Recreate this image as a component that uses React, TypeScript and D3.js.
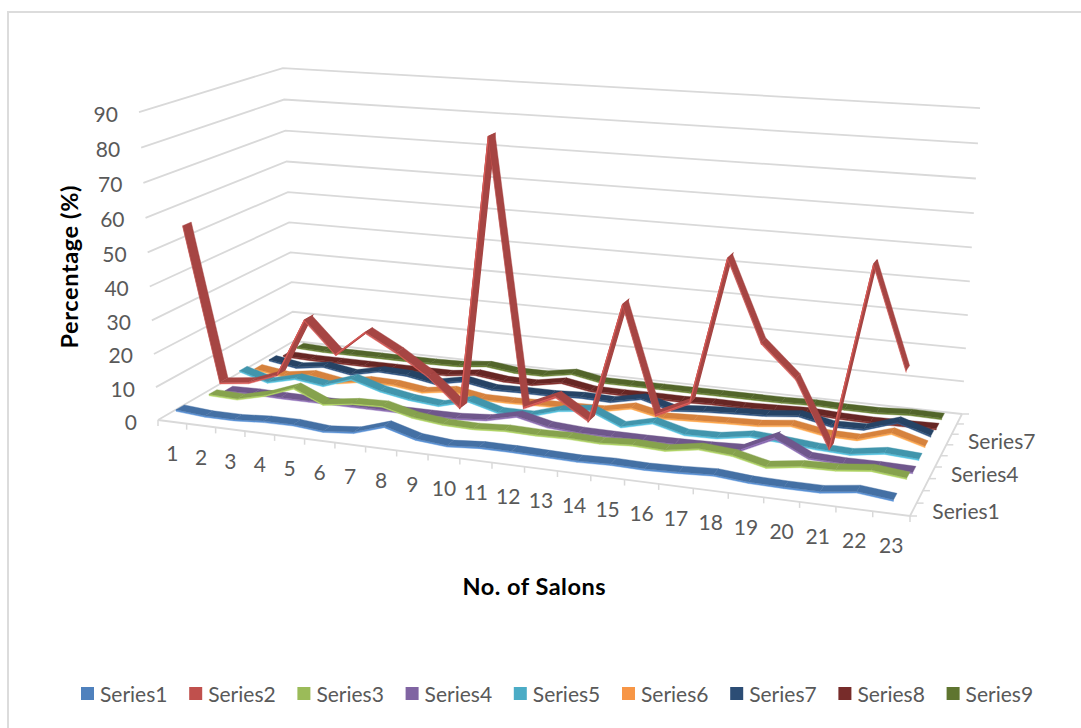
import React from "react";
import * as d3 from "d3";

type P = [number, number];
const seriesNames = ["Series1","Series2","Series3","Series4","Series5","Series6","Series7","Series8","Series9"];
const categories = d3.range(1,24).map(String);
const colors = ["#4f81bd","#c0504d","#9bbb59","#8064a2","#4bacc6","#f79646","#2c4d75","#772c2a","#5f7530"];
const valueTicks = [0,10,20,30,40,50,60,70,80,90];

const series1 = [2.9,2.2,2.2,2.8,2.9,2.1,2.9,5.8,3.2,2.4,3.1,3.1,2.9,2.7,3.0,2.8,3.1,3.6,2.8,2.6,2.6,3.9,2.9];
const series2 = [55.5,9.4,10.5,13.9,31.1,21.9,29.4,24.5,18.5,10.4,87.4,12.6,16.8,11.0,44.7,14.9,19.4,59.8,38.0,29.2,11.1,61.5,34.4];
const series3 = [1.8,1.5,3.7,7.0,3.1,4.4,4.7,2.4,1.4,1.2,1.8,1.6,1.8,1.5,2.1,1.7,3.3,2.6,0.4,1.8,2.0,3.1,2.1];
const series4 = [0.0,0.2,0.0,0.0,0.0,0.0,0.0,0.0,0.1,0.8,3.0,0.9,0.3,0.2,0.2,0.3,0.5,0.9,5.5,0.9,0.5,0.6,0.4];
const series5 = [3.6,1.0,3.2,2.0,5.1,2.4,0.8,0.0,2.5,0.0,0.0,2.8,4.0,0.1,2.4,0.0,0.2,1.8,1.2,0.4,0.0,1.5,0.9];
const series6 = [1.4,0.1,1.5,0.0,1.6,1.4,0.2,1.6,0.1,0.1,0.4,0.6,0.8,2.8,0.8,1.2,1.6,1.9,3.0,1.3,1.1,4.1,1.4];
const series7 = [1.6,0.2,1.5,0.0,2.0,1.7,0.1,1.9,0.3,0.5,0.5,1.0,0.7,2.7,0.2,1.0,1.5,1.9,2.9,0.9,1.1,4.3,1.3];
const series8 = [0.3,0.0,0.0,0.0,0.0,0.0,0.0,1.2,0.1,0.0,1.7,0.1,0.0,0.1,0.0,0.3,0.2,0.5,0.8,0.3,0.1,0.2,0.4];
const series9 = [0.4,0.0,0.0,0.0,0.0,0.0,0.2,1.2,0.1,0.1,1.7,0.0,0.0,0.0,0.0,0.0,0.0,0.0,0.3,0.0,0.0,0.6,0.4];
const values = [series1,series2,series3,series4,series5,series6,series7,series8,series9];

function homography(q:P[]){
  const [p0,p1,p2,p3]=q;
  const dx1=p1[0]-p2[0],dx2=p3[0]-p2[0],sx=p0[0]-p1[0]+p2[0]-p3[0];
  const dy1=p1[1]-p2[1],dy2=p3[1]-p2[1],sy=p0[1]-p1[1]+p2[1]-p3[1];
  const det=dx1*dy2-dx2*dy1;
  const g=(sx*dy2-dx2*sy)/det,h=(dx1*sy-sx*dy1)/det;
  const a=p1[0]-p0[0]+g*p1[0],b=p3[0]-p0[0]+h*p3[0],c=p0[0];
  const d=p1[1]-p0[1]+g*p1[1],e=p3[1]-p0[1]+h*p3[1],f=p0[1];
  return (u:number,v:number)=>[a*u+b*v+c,d*u+e*v+f,g*u+h*v+1];
}
const floorH=homography([[158,420],[910,516],[962,414],[294,341]]);
const VP:P=[569,7080];
const S=-0.0442;
const vS=d3.scaleLinear().domain([0,90]).range([0,S]);
const xS=d3.scalePoint<string>().domain(categories).range([0,1]).padding(0.5);
const zS=d3.scalePoint<string>().domain(seriesNames).range([0,1]).padding(0.5);
const proj=(u:number,z:number,v:number):P=>{const [X,Y,W]=floorH(u,z);const s=vS(v);return [(X+s*VP[0])/(W+s),(Y+s*VP[1])/(W+s)];};

const line=d3.line<P>();
const DZ=0.028;
const H=0.45;
function Ribbon({vals,name,color}:{vals:number[];name:string;color:string}){
  const z=zS(name)!;
  const top=d3.color(color)!.darker(0.4).formatHex();
  const side=d3.color(color)!.brighter(0.35).formatHex();
  const segs=d3.pairs(vals.map((v,i)=>({v,u:xS(categories[i])!})));
  return <g>{segs.map(([a,b],i)=>{
    const d=DZ;
    const f=[proj(a.u,z-d,a.v),proj(b.u,z-d,b.v),proj(b.u,z+d,b.v),proj(a.u,z+d,a.v)];
    const s=[proj(a.u,z-d,a.v),proj(b.u,z-d,b.v),proj(b.u,z-d,b.v-H),proj(a.u,z-d,a.v-H)];
    return <g key={i}>
      <path d={line(s)!+"Z"} fill={side} stroke={side} strokeWidth={0.4}/>
      <path d={line(f)!+"Z"} fill={top} stroke={top} strokeWidth={b.v-a.v>4?1.4:0.4}/>
      {b.v-a.v>4 && <path d={line([f[0],f[1]])!} stroke={side} strokeWidth={1.3} fill="none"/>}
    </g>;
  })}</g>;
}

const FONT="Lato, sans-serif";
const TXT="#595959";
export default function App(){
  const gridCol="#d9d9d9";
  return <svg width={1081} height={728} style={{position:"absolute",left:0,top:0}} fontFamily={FONT}>
    <rect width={1081} height={728} fill="#fff"/>
    <path d="M8 728V12H1081" fill="none" stroke="#dcdcdc" strokeWidth={2}/>
    {valueTicks.map(v=><path key={v} d={line([proj(0,0,v),proj(0,1,v),proj(1,1,v)])!} fill="none" stroke={gridCol} strokeWidth={1.8}/>)}
    <path d={line([proj(0,0,0),proj(1,0,0),proj(1,1,0)])!} fill="none" stroke={gridCol} strokeWidth={1.8}/>
    {[...categories.map(c=>xS(c)!-xS.step()/2),1].map((u,i)=>{const p=proj(u,0,0);return <line key={i} x1={p[0]} y1={p[1]} x2={p[0]} y2={p[1]+6} stroke={gridCol} strokeWidth={1.5}/>;})}
    {[...seriesNames.map(c=>zS(c)!-zS.step()/2),1].map((z,i)=>{const p=proj(1,z,0);return <line key={i} x1={p[0]} y1={p[1]} x2={p[0]+7} y2={p[1]} stroke={gridCol} strokeWidth={1.5}/>;})}
    {valueTicks.map(v=>{const p=proj(0,0,v);return <text key={v} x={p[0]-21} y={p[1]+1} textAnchor="end" dominantBaseline="central" fontSize={21} fill={TXT}>{v}</text>;})}
    {categories.map(c=>{const p=proj(xS(c)!,0,0);return <text key={c} x={p[0]} y={p[1]+31} textAnchor="middle" dominantBaseline="central" fontSize={21} fill={TXT}>{c}</text>;})}
    {["Series1","Series4","Series7"].map(n=>{const p=proj(1,zS(n)!,0);return <text key={n} x={p[0]+19} y={p[1]+1} dominantBaseline="central" fontSize={21} fill={TXT}>{n}</text>;})}
    {d3.reverse(seriesNames).map(n=>{const i=seriesNames.indexOf(n);return <Ribbon key={n} name={n} vals={values[i]} color={colors[i]}/>;})}
    <text x={534} y={586} textAnchor="middle" dominantBaseline="central" fontSize={23.5} textLength={143} fontWeight={700} fill="#000">No. of Salons</text>
    <text transform="translate(69,267) rotate(-90)" textAnchor="middle" dominantBaseline="central" fontSize={23.5} textLength={163} fontWeight={700} fill="#000">Percentage (%)</text>
    {seriesNames.map((n,i)=>{const x=81+i*108.2;return <g key={n}><rect x={x} y={687} width={13} height={13} fill={colors[i]}/><text x={x+19} y={693.5} dominantBaseline="central" fontSize={21} fill={TXT}>{n}</text></g>;})}
  </svg>;
}
